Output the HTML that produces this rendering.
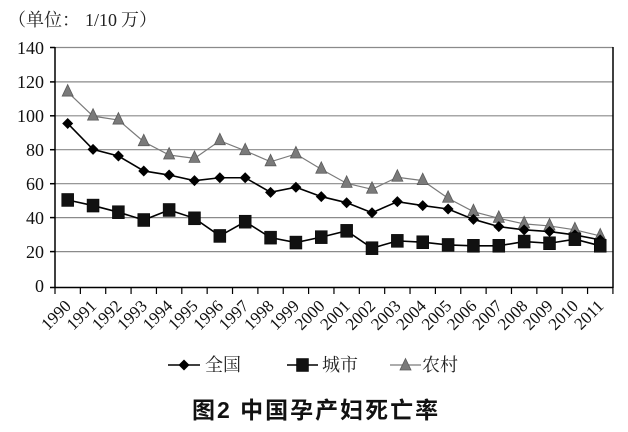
<!DOCTYPE html>
<html><head><meta charset="utf-8"><style>
html,body{margin:0;padding:0;background:#fff;}
svg{display:block;}
</style></head><body>
<svg width="628" height="432" viewBox="0 0 628 432" xmlns="http://www.w3.org/2000/svg">
<defs>
<path id="dm" d="M0,-5.5 L5.5,0 L0,5.5 L-5.5,0 Z" fill="#000"/>
<rect id="sq" x="-6" y="-6.5" width="12" height="13" fill="#111" stroke="#000" stroke-width="0.5"/>
<path id="tr" d="M0,-7.5 L5.5,4 L-5.5,4 Z" fill="#7a7a7a" stroke="#5a5a5a" stroke-width="0.8"/>
</defs>
<rect width="628" height="432" fill="#fff"/>
<!-- title -->
<text font-family="'Liberation Serif','Noto Serif CJK SC',serif" font-size="18" fill="#222" y="26"><tspan x="8">（</tspan><tspan x="26">单位：</tspan><tspan x="85">1/10</tspan><tspan x="121">万</tspan><tspan x="139">）</tspan></text>
<!-- gridlines -->
<g stroke="#8a8a8a" stroke-width="1.2">
<line x1="55" y1="47.5" x2="613" y2="47.5"/>
<line x1="55" y1="81.9" x2="613" y2="81.9"/>
<line x1="55" y1="115.8" x2="613" y2="115.8"/>
<line x1="55" y1="149.7" x2="613" y2="149.7"/>
<line x1="55" y1="183.7" x2="613" y2="183.7"/>
<line x1="55" y1="217.6" x2="613" y2="217.6"/>
<line x1="55" y1="251.6" x2="613" y2="251.6"/>
</g>
<!-- axes -->
<g stroke="#000" stroke-width="1.5" fill="none">
<line x1="55" y1="47" x2="55" y2="288"/>
<line x1="613" y1="47" x2="613" y2="288"/>
<line x1="50" y1="287.5" x2="613" y2="287.5"/>
<line x1="50" y1="47.5" x2="55" y2="47.5"/>
<line x1="50" y1="81.9" x2="55" y2="81.9"/>
<line x1="50" y1="115.8" x2="55" y2="115.8"/>
<line x1="50" y1="149.7" x2="55" y2="149.7"/>
<line x1="50" y1="183.7" x2="55" y2="183.7"/>
<line x1="50" y1="217.6" x2="55" y2="217.6"/>
<line x1="50" y1="251.6" x2="55" y2="251.6"/>
</g>
<g stroke="#000" stroke-width="1.2">
<line x1="55" y1="287" x2="55" y2="294"/>
<line x1="80.36" y1="287" x2="80.36" y2="294"/>
<line x1="105.72" y1="287" x2="105.72" y2="294"/>
<line x1="131.08" y1="287" x2="131.08" y2="294"/>
<line x1="156.44" y1="287" x2="156.44" y2="294"/>
<line x1="181.8" y1="287" x2="181.8" y2="294"/>
<line x1="207.16" y1="287" x2="207.16" y2="294"/>
<line x1="232.52" y1="287" x2="232.52" y2="294"/>
<line x1="257.88" y1="287" x2="257.88" y2="294"/>
<line x1="283.24" y1="287" x2="283.24" y2="294"/>
<line x1="308.6" y1="287" x2="308.6" y2="294"/>
<line x1="333.96" y1="287" x2="333.96" y2="294"/>
<line x1="359.32" y1="287" x2="359.32" y2="294"/>
<line x1="384.68" y1="287" x2="384.68" y2="294"/>
<line x1="410.04" y1="287" x2="410.04" y2="294"/>
<line x1="435.4" y1="287" x2="435.4" y2="294"/>
<line x1="460.76" y1="287" x2="460.76" y2="294"/>
<line x1="486.12" y1="287" x2="486.12" y2="294"/>
<line x1="511.48" y1="287" x2="511.48" y2="294"/>
<line x1="536.84" y1="287" x2="536.84" y2="294"/>
<line x1="562.2" y1="287" x2="562.2" y2="294"/>
<line x1="587.56" y1="287" x2="587.56" y2="294"/>
<line x1="612.92" y1="287" x2="612.92" y2="294"/>
</g>
<!-- y labels -->
<g font-family="'Liberation Serif',serif" font-size="18" fill="#111" text-anchor="end">
<text x="44" y="54">140</text>
<text x="44" y="88">120</text>
<text x="44" y="122">100</text>
<text x="44" y="156">80</text>
<text x="44" y="190">60</text>
<text x="44" y="224">40</text>
<text x="44" y="258">20</text>
<text x="44" y="292">0</text>
</g>
<!-- x labels -->
<g font-family="'Liberation Serif',serif" font-size="17" fill="#111" text-anchor="end">
<text transform="translate(72,307) rotate(-45)">1990</text>
<text transform="translate(97.4,307) rotate(-45)">1991</text>
<text transform="translate(122.8,307) rotate(-45)">1992</text>
<text transform="translate(148.1,307) rotate(-45)">1993</text>
<text transform="translate(173.5,307) rotate(-45)">1994</text>
<text transform="translate(198.9,307) rotate(-45)">1995</text>
<text transform="translate(224.2,307) rotate(-45)">1996</text>
<text transform="translate(249.6,307) rotate(-45)">1997</text>
<text transform="translate(274.9,307) rotate(-45)">1998</text>
<text transform="translate(300.3,307) rotate(-45)">1999</text>
<text transform="translate(325.7,307) rotate(-45)">2000</text>
<text transform="translate(351,307) rotate(-45)">2001</text>
<text transform="translate(376.4,307) rotate(-45)">2002</text>
<text transform="translate(401.8,307) rotate(-45)">2003</text>
<text transform="translate(427.1,307) rotate(-45)">2004</text>
<text transform="translate(452.5,307) rotate(-45)">2005</text>
<text transform="translate(477.8,307) rotate(-45)">2006</text>
<text transform="translate(503.2,307) rotate(-45)">2007</text>
<text transform="translate(528.6,307) rotate(-45)">2008</text>
<text transform="translate(553.9,307) rotate(-45)">2009</text>
<text transform="translate(579.3,307) rotate(-45)">2010</text>
<text transform="translate(604.6,307) rotate(-45)">2011</text>
</g>
<!-- 农村 -->
<polyline fill="none" stroke="#7a7a7a" stroke-width="1.2" points="67.68,92.04 93.04,116.14 118.4,120.04 143.76,141.76 169.12,155 194.48,158.39 219.84,140.75 245.2,150.76 270.56,161.79 295.92,153.98 321.28,169.26 346.64,183.34 372,189.28 397.36,177.23 422.72,180.63 448.08,198.27 473.44,211.68 498.8,218.3 524.16,223.9 549.52,225.94 574.88,229.84 600.24,235.95"/>
<g>
<use href="#tr" x="67.68" y="92.04"/><use href="#tr" x="93.04" y="116.14"/><use href="#tr" x="118.4" y="120.04"/><use href="#tr" x="143.76" y="141.76"/><use href="#tr" x="169.12" y="155"/><use href="#tr" x="194.48" y="158.39"/><use href="#tr" x="219.84" y="140.75"/><use href="#tr" x="245.2" y="150.76"/><use href="#tr" x="270.56" y="161.79"/><use href="#tr" x="295.92" y="153.98"/><use href="#tr" x="321.28" y="169.26"/><use href="#tr" x="346.64" y="183.34"/><use href="#tr" x="372" y="189.28"/><use href="#tr" x="397.36" y="177.23"/><use href="#tr" x="422.72" y="180.63"/><use href="#tr" x="448.08" y="198.27"/><use href="#tr" x="473.44" y="211.68"/><use href="#tr" x="498.8" y="218.3"/><use href="#tr" x="524.16" y="223.9"/><use href="#tr" x="549.52" y="225.94"/><use href="#tr" x="574.88" y="229.84"/><use href="#tr" x="600.24" y="235.95"/>
</g>
<!-- 全国 -->
<polyline fill="none" stroke="#000" stroke-width="1.6" points="67.68,123.44 93.04,149.4 118.4,156.02 143.76,170.95 169.12,175.03 194.48,180.63 219.84,177.74 245.2,177.74 270.56,192.33 295.92,187.24 321.28,196.58 346.64,202.69 372,212.7 397.36,201.67 422.72,205.57 448.08,208.97 473.44,219.32 498.8,226.61 524.16,229.84 549.52,231.54 574.88,234.93 600.24,239.85"/>
<g>
<use href="#dm" x="67.68" y="123.44"/><use href="#dm" x="93.04" y="149.4"/><use href="#dm" x="118.4" y="156.02"/><use href="#dm" x="143.76" y="170.95"/><use href="#dm" x="169.12" y="175.03"/><use href="#dm" x="194.48" y="180.63"/><use href="#dm" x="219.84" y="177.74"/><use href="#dm" x="245.2" y="177.74"/><use href="#dm" x="270.56" y="192.33"/><use href="#dm" x="295.92" y="187.24"/><use href="#dm" x="321.28" y="196.58"/><use href="#dm" x="346.64" y="202.69"/><use href="#dm" x="372" y="212.7"/><use href="#dm" x="397.36" y="201.67"/><use href="#dm" x="422.72" y="205.57"/><use href="#dm" x="448.08" y="208.97"/><use href="#dm" x="473.44" y="219.32"/><use href="#dm" x="498.8" y="226.61"/><use href="#dm" x="524.16" y="229.84"/><use href="#dm" x="549.52" y="231.54"/><use href="#dm" x="574.88" y="234.93"/><use href="#dm" x="600.24" y="239.85"/>
</g>
<!-- 城市 -->
<polyline fill="none" stroke="#000" stroke-width="1.6" points="67.68,199.97 93.04,205.57 118.4,212.19 143.76,220 169.12,209.98 194.48,218.3 219.84,235.95 245.2,221.69 270.56,237.64 295.92,242.57 321.28,237.14 346.64,230.86 372,248.17 397.36,240.87 422.72,242.23 448.08,244.94 473.44,245.79 498.8,245.79 524.16,241.55 549.52,243.24 574.88,239.17 600.24,245.79"/>
<g>
<use href="#sq" x="67.68" y="199.97"/><use href="#sq" x="93.04" y="205.57"/><use href="#sq" x="118.4" y="212.19"/><use href="#sq" x="143.76" y="220"/><use href="#sq" x="169.12" y="209.98"/><use href="#sq" x="194.48" y="218.3"/><use href="#sq" x="219.84" y="235.95"/><use href="#sq" x="245.2" y="221.69"/><use href="#sq" x="270.56" y="237.64"/><use href="#sq" x="295.92" y="242.57"/><use href="#sq" x="321.28" y="237.14"/><use href="#sq" x="346.64" y="230.86"/><use href="#sq" x="372" y="248.17"/><use href="#sq" x="397.36" y="240.87"/><use href="#sq" x="422.72" y="242.23"/><use href="#sq" x="448.08" y="244.94"/><use href="#sq" x="473.44" y="245.79"/><use href="#sq" x="498.8" y="245.79"/><use href="#sq" x="524.16" y="241.55"/><use href="#sq" x="549.52" y="243.24"/><use href="#sq" x="574.88" y="239.17"/><use href="#sq" x="600.24" y="245.79"/>
</g>
<!-- legend -->
<line x1="168" y1="365" x2="200" y2="365" stroke="#000" stroke-width="1.5"/>
<use href="#dm" x="184" y="365"/>
<line x1="287" y1="365" x2="318" y2="365" stroke="#000" stroke-width="1.5"/>
<use href="#sq" x="302.5" y="365"/>
<line x1="390" y1="365" x2="421" y2="365" stroke="#7a7a7a" stroke-width="1.2"/>
<use href="#tr" x="405.5" y="366"/>
<g font-family="'Liberation Serif','Noto Serif CJK SC',serif" font-size="18" fill="#222">
<text x="205" y="371">全国</text>
<text x="322" y="371">城市</text>
<text x="422" y="371">农村</text>
</g>
<!-- caption -->
<text x="192" y="418" font-family="'Liberation Sans','Noto Sans CJK SC',sans-serif" font-weight="bold" font-size="23" letter-spacing="2" fill="#111">图2 中国孕产妇死亡率</text>
</svg>
</body></html>
